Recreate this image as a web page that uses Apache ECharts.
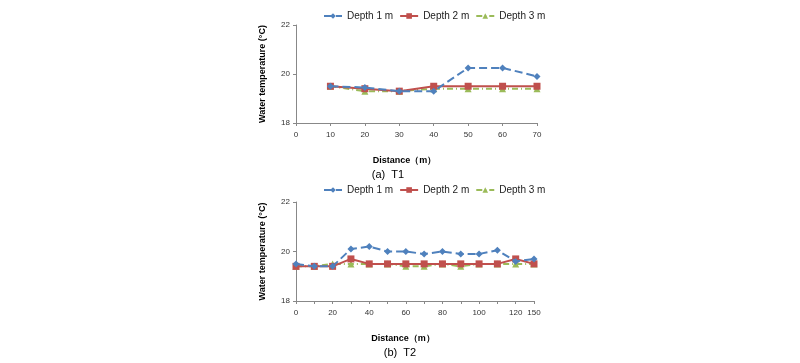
<!DOCTYPE html>
<html><head><meta charset="utf-8">
<script src="https://cdn.jsdelivr.net/npm/echarts@6/dist/echarts.min.js"></script>
<style>html,body{margin:0;padding:0;background:#fff}#c{width:800px;height:363px}</style>
</head><body><div id="c"></div>
<script>
const cats1 = ['0','10','20','30','40','50','60','70'];
const t1Depth1 = [null,19.5,19.45,19.3,19.3,20.25,20.25,19.9];
const t1Depth2 = [null,19.5,19.4,19.3,19.5,19.5,19.5,19.5];
const t1Depth3 = [null,19.5,19.3,19.3,19.4,19.4,19.4,19.4];
const cats2 = ['0','10','20','30','40','50','60','70','80','90','100','110','120','150'];
const t2Depth1 = [19.5,19.4,19.4,20.1,20.2,20.0,20.0,19.9,20.0,19.9,19.9,20.05,19.6,19.7];
const t2Depth2 = [19.4,19.4,19.4,19.7,19.5,19.5,19.5,19.5,19.5,19.5,19.5,19.5,19.7,19.5];
const t2Depth3 = [19.4,19.4,19.5,19.5,19.5,19.5,19.4,19.4,19.5,19.4,19.5,19.5,19.5,19.5];
const names = ['Depth 1 m','Depth 2 m','Depth 3 m'];
const captions = ['(a)  T1','(b)  T2'];
const yTitle = 'Water temperature (°C)';
const xTitle = 'Distance（m）';

const colors = ['#4F81BD','#C0504D','#9BBB59'];
const lineTypes = ['dashed','solid',[6,3,1,3]];
const symbols = ['diamond','rect','triangle'];
const symSizes = [7,7,7];

const chart = echarts.init(document.getElementById('c'));
const axisCol = '#888';
function xAx(idx, data, interval){
  return {type:'category', gridIndex:idx, data, boundaryGap:false,
    axisLine:{lineStyle:{color:axisCol}}, axisTick:{show:true, inside:false, length:3, alignWithLabel:true, interval:0, lineStyle:{color:axisCol}},
    axisLabel:{color:'#333', fontSize:8, fontFamily:'Liberation Sans', interval: interval, margin:8},
    name:xTitle, nameLocation:'middle', nameGap:33,
    nameTextStyle:{fontWeight:'bold', fontSize:9, color:'#000', fontFamily:'Liberation Sans', padding:[0,24,0,0]}};
}
function yAx(idx){
  return {type:'value', gridIndex:idx, min:18, max:22, interval:2,
    axisLine:{show:true, lineStyle:{color:axisCol}}, axisTick:{show:true, length:3, lineStyle:{color:axisCol}},
    splitLine:{show:false},
    axisLabel:{color:'#333', fontSize:8, fontFamily:'Liberation Sans', margin:6},
    name:yTitle, nameLocation:'middle', nameGap:29, nameRotate:90,
    nameTextStyle:{fontWeight:'bold', fontSize:9, color:'#000', fontFamily:'Liberation Sans'}};
}
const allData = [[t1Depth1,t1Depth2,t1Depth3],[t2Depth1,t2Depth2,t2Depth3]];
const series = [];
allData.forEach((set, g) => {
  set.forEach((d, k) => {
    series.push({name:names[k], type:'line', xAxisIndex:g, yAxisIndex:g, data:d,
      symbol:symbols[k], symbolSize:symSizes[k], showAllSymbol:true,
      itemStyle:{color:colors[k]},
      lineStyle:{color:colors[k], width:2, type:lineTypes[k]},
      z: 3-k, animation:false});
  });
});
const legendCommon = {left:318, itemWidth:18, itemHeight:7, itemGap:6, data:names, textStyle:{fontSize:10, color:'#222', fontFamily:'Liberation Sans'}};
chart.setOption({
  animation:false,
  color:colors,
  legend:[
    Object.assign({top:6}, legendCommon),
    Object.assign({top:180}, legendCommon)
  ],
  title:[
    {text:captions[0], left:383, top:164, textAlign:'center', textStyle:{fontSize:11, fontWeight:'normal', color:'#000', fontFamily:'Liberation Sans'}},
    {text:captions[1], left:395, top:342, textAlign:'center', textStyle:{fontSize:11, fontWeight:'normal', color:'#000', fontFamily:'Liberation Sans'}}
  ],
  grid:[
    {left:296, top:25, width:241, height:98},
    {left:296, top:202, width:238, height:99}
  ],
  xAxis:[xAx(0,cats1,0), xAx(1,cats2,(i)=> i%2===0 || i===13)],
  yAxis:[yAx(0), yAx(1)],
  series
});
</script></body></html>
